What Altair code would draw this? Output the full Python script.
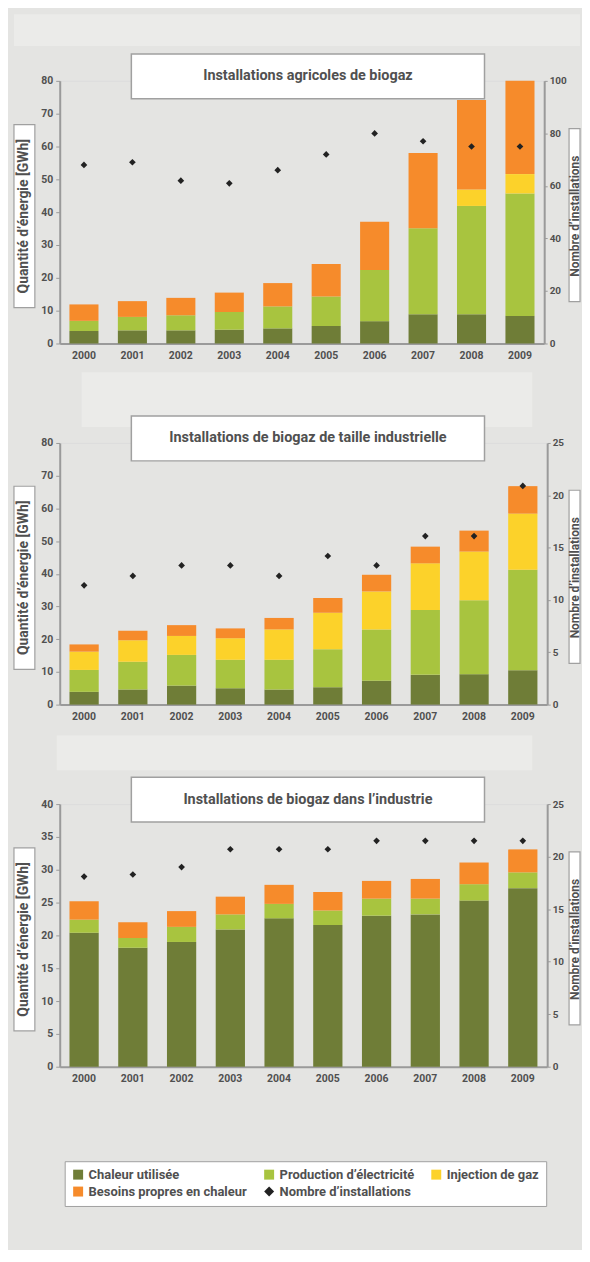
import altair as alt
import pandas as pd

# ---------------- data ----------------
annees = ["2000", "2001", "2002", "2003", "2004", "2005", "2006", "2007", "2008", "2009"]
series = ["Chaleur utilisée", "Production d’électricité", "Injection de gaz", "Besoins propres en chaleur"]
nombre_label = "Nombre d’installations"
couleurs = ["#6f7d37", "#a8c43f", "#fcd22a", "#f68b2b", "#222222"]
formes = ["square", "square", "square", "square", "diamond"]

titre_1 = "Installations agricoles de biogaz"
chaleur_1 = [3.8, 4.0, 4.0, 4.2, 4.6, 5.3, 6.8, 8.9, 8.9, 8.4]
electricite_1 = [3.1, 4.1, 4.6, 5.4, 6.7, 9.0, 15.6, 26.2, 33.0, 37.3]
injection_1 = [0, 0, 0, 0, 0, 0, 0, 0, 5.0, 5.9]
besoins_1 = [5.0, 4.8, 5.3, 5.9, 7.1, 9.9, 14.7, 22.9, 27.3, 28.4]
nombre_1 = [68, 69, 62, 61, 66, 72, 80, 77, 75, 75]

titre_2 = "Installations de biogaz de taille industrielle"
chaleur_2 = [3.9, 4.6, 5.8, 5.0, 4.6, 5.3, 7.3, 9.1, 9.3, 10.5]
electricite_2 = [6.7, 8.5, 9.4, 8.7, 9.1, 11.6, 15.7, 19.8, 22.6, 30.7]
injection_2 = [5.6, 6.6, 5.8, 6.6, 9.3, 11.2, 11.6, 14.3, 14.9, 17.2]
besoins_2 = [2.2, 2.9, 3.3, 3.0, 3.5, 4.5, 5.1, 5.1, 6.4, 8.4]
nombre_2 = [11.4, 12.3, 13.3, 13.3, 12.3, 14.2, 13.3, 16.1, 16.1, 20.9]

titre_3 = "Installations de biogaz dans l’industrie"
chaleur_3 = [20.4, 18.1, 19.0, 20.9, 22.6, 21.6, 23.0, 23.2, 25.3, 27.2]
electricite_3 = [2.0, 1.5, 2.3, 2.3, 2.2, 2.2, 2.6, 2.4, 2.5, 2.4]
injection_3 = [0, 0, 0, 0, 0, 0, 0, 0, 0, 0]
besoins_3 = [2.8, 2.4, 2.4, 2.7, 2.9, 2.8, 2.7, 3.0, 3.3, 3.5]
nombre_3 = [18.1, 18.3, 19.0, 20.7, 20.7, 20.7, 21.5, 21.5, 21.5, 21.5]

titre_y_gauche = "Quantité d’énergie [GWh]"
titre_y_droite = "Nombre d’installations"

FONT = "Roboto"
GRIS_TXT = "#505050"
GRIS_LIGNE = "#9a9a9a"
FOND = "#e4e4e2"
BANDE = "#ebebe9"
domaine = series + [nombre_label]


def panel(titre, valeurs, nombre, ymax, ystep, rmax, rstep, w, h, legende, bande):
    rows = []
    for i, (s, vals) in enumerate(zip(series, valeurs)):
        for a, v in zip(annees, vals):
            if v > 0:
                rows.append({"annee": a, "serie": s, "valeur": v, "ordre": i})
    df = pd.DataFrame(rows)
    dfn = pd.DataFrame({"annee": annees, "nombre": nombre, "serie": [nombre_label] * len(annees)})

    x = alt.X("annee:N", title=None, sort=annees,
              scale=alt.Scale(paddingInner=0.4, paddingOuter=0.2),
              axis=alt.Axis(labelAngle=0, ticks=False, labelPadding=7, labelFontSize=10.5,
                            labelFontWeight="bold", labelColor=GRIS_TXT, domainColor=GRIS_LIGNE,
                            domainWidth=2))
    if legende:
        leg = alt.Legend(title=None, orient="none", legendX=5, legendY=359, columns=3,
                         gridAlign="none", direction="horizontal", fillColor="white",
                         strokeColor="#a0a0a0", padding=7, labelFont=FONT, labelFontSize=13,
                         labelFontWeight="bold", labelColor=GRIS_TXT, symbolSize=100,
                         symbolStrokeWidth=0, columnPadding=15, rowPadding=3, labelLimit=300,
                         labelOffset=4)
    else:
        leg = None
    color = alt.Color("serie:N", scale=alt.Scale(domain=domaine, range=couleurs), legend=leg)
    shape = alt.Shape("serie:N", scale=alt.Scale(domain=domaine, range=formes), legend=leg)

    bars = alt.Chart(df).mark_bar().encode(
        x=x,
        y=alt.Y("valeur:Q", stack="zero", scale=alt.Scale(domain=[0, ymax], nice=False),
                axis=alt.Axis(orient="left", title=None, values=list(range(0, ymax + 1, ystep)),
                              tickSize=4, labelPadding=3, labelFontSize=10.5, labelFontWeight="bold",
                              labelColor=GRIS_TXT, tickColor=GRIS_LIGNE, domainColor=GRIS_LIGNE,
                              domainWidth=2, grid=False)),
        color=color,
        order=alt.Order("ordre:Q"),
    )
    pts = alt.Chart(dfn).mark_point(filled=True, size=45, opacity=1).encode(
        x=x,
        y=alt.Y("nombre:Q", scale=alt.Scale(domain=[0, rmax], nice=False),
                axis=alt.Axis(orient="right", title=None, values=list(range(0, rmax + 1, rstep)),
                              tickSize=3, labelPadding=2, labelFontSize=10, labelFontWeight="bold",
                              labelColor=GRIS_TXT, tickColor=GRIS_LIGNE, domainColor=GRIS_LIGNE,
                              domainWidth=2, grid=False)),
        color=color,
        shape=shape,
    )

    t = pd.DataFrame({"t": [titre]})
    bx0, bx1, by0, by1 = bande
    fond_bande = alt.Chart(t).mark_rect(fill=BANDE).encode(
        x=alt.value(bx0), x2=alt.value(bx1), y=alt.value(by0), y2=alt.value(by1))
    boite_titre = alt.Chart(t).mark_rect(fill="white", stroke="#a0a0a0", strokeWidth=1.5).encode(
        x=alt.value(72), x2=alt.value(427), y=alt.value(-27), y2=alt.value(18))
    texte_titre = alt.Chart(t).mark_text(font=FONT, fontSize=14.5, fontWeight="bold",
                                         color=GRIS_TXT, align="center", baseline="middle").encode(
        x=alt.value(249.5), y=alt.value(-4.5), text="t:N")

    tg = pd.DataFrame({"t": [titre_y_gauche]})
    cy = h / 2 + 4
    boite_g = alt.Chart(tg).mark_rect(fill="white", stroke="#a0a0a0", strokeWidth=1.2).encode(
        x=alt.value(-46), x2=alt.value(-25), y=alt.value(cy - 92), y2=alt.value(cy + 92))
    texte_g = alt.Chart(tg).mark_text(font=FONT, fontSize=14, fontWeight="bold", color=GRIS_TXT,
                                      angle=270, align="center", baseline="middle").encode(
        x=alt.value(-35.5), y=alt.value(cy), text="t:N")

    td = pd.DataFrame({"t": [titre_y_droite]})
    boite_d = alt.Chart(td).mark_rect(fill="white", stroke="#a0a0a0", strokeWidth=1.2).encode(
        x=alt.value(512), x2=alt.value(523), y=alt.value(cy - 88), y2=alt.value(cy + 86))
    texte_d = alt.Chart(td).mark_text(font=FONT, fontSize=12, fontWeight="bold", color=GRIS_TXT,
                                      angle=270, align="center", baseline="middle").encode(
        x=alt.value(517.5), y=alt.value(cy), text="t:N")

    return alt.layer(fond_bande, boite_g, texte_g, boite_d, texte_d, bars, pts, boite_titre,
                     texte_titre).resolve_scale(y="independent").properties(width=w, height=h)


p1 = panel(titre_1, [chaleur_1, electricite_1, injection_1, besoins_1], nombre_1, 80, 10, 100, 20,
           487, 264, False, (-46, 523, -67, -35))
p2 = panel(titre_2, [chaleur_2, electricite_2, injection_2, besoins_2], nombre_2, 80, 10, 25, 5,
           490, 263, False, (22, 475, -71, -16))
p3 = panel(titre_3, [chaleur_3, electricite_3, injection_3, besoins_3], nombre_3, 40, 5, 25, 5,
           490, 264, True, (-3, 475, -69, -34))

chart = alt.vconcat(p1, p2, p3, spacing=100, bounds="flush").resolve_scale(
    color="independent", shape="independent").resolve_legend(
    color="independent", shape="independent").properties(
    padding={"left": 4, "top": 2, "right": 0, "bottom": 40},
    background=FOND,
).configure_view(stroke=GRIS_LIGNE, strokeWidth=2, fill="white").configure(font=FONT)

chart.save("out.html", embed_options={"renderer": "svg", "actions": False})
